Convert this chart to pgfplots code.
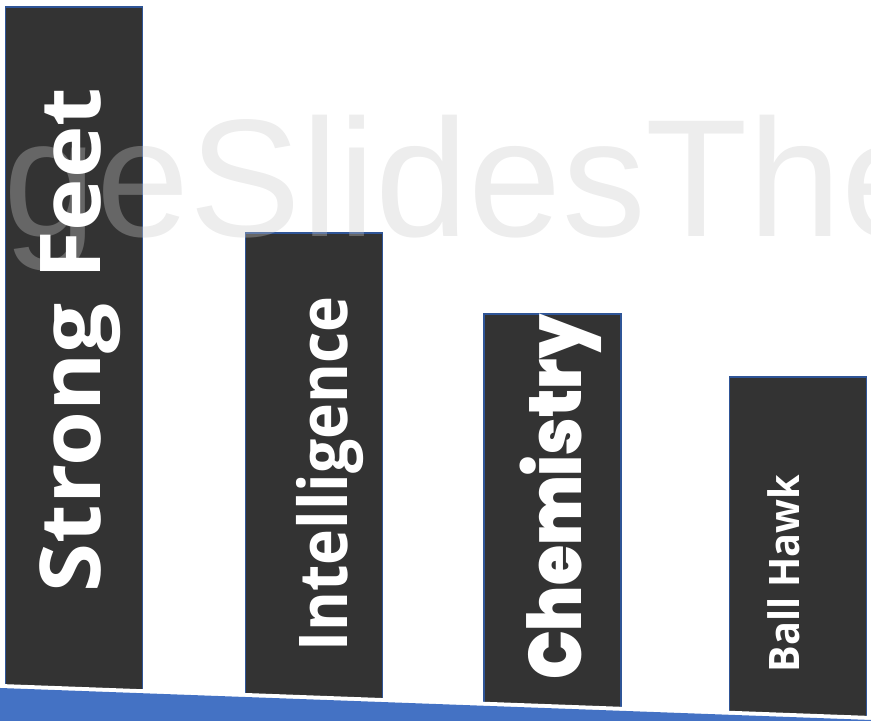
\documentclass[border=0pt]{standalone}
\usepackage{pgfplots}
\pgfplotsset{compat=1.18}
\usepackage{fontspec}
\usepackage{graphicx}
\setmainfont{Open Sans}
\newfontfamily\wmfont{Liberation Sans}
\newfontfamily\chemfont{Poppins Black}
\definecolor{barfill}{HTML}{333333}
\definecolor{baredge}{HTML}{2F5597}
\definecolor{bandblue}{HTML}{4472C4}
\definecolor{wmgray}{HTML}{C9C9C9}
\begin{document}
\begin{tikzpicture}
\begin{axis}[
  scale only axis,
  width=348.4pt, height=288.4pt,
  xmin=0, xmax=871, ymin=0, ymax=721,
  hide axis,
  clip=false,
]
\addplot[ybar, bar width=137, fill=barfill, draw=baredge, line width=0.6pt]
  coordinates {(74,714) (314,488) (552.5,407) (798,344)};
\node[anchor=base west, text=wmgray, opacity=0.34, inner sep=0pt,
      font=\wmfont\fontsize{67}{70}\selectfont] at (axis cs:3,484) {geSlidesThe};
\node[rotate=90, anchor=base, text=white, inner sep=0pt] at (axis cs:100,381)
  {\resizebox{202pt}{\height}{\bfseries\fontsize{33.6}{40}\selectfont Strong Feet}};
\node[rotate=90, anchor=base, text=white, inner sep=0pt] at (axis cs:348,247)
  {\resizebox{142pt}{\height}{\bfseries\fontsize{26.9}{32}\selectfont Intelligence}};
\node[rotate=90, anchor=base, text=white, inner sep=0pt] at (axis cs:582,223.5)
  {\resizebox{146pt}{\height}{\chemfont\fontsize{29.7}{34}\selectfont Chemistry}};
\node[rotate=90, anchor=base, text=white, inner sep=0pt] at (axis cs:800,147.5)
  {\resizebox{79pt}{\height}{\bfseries\fontsize{16.8}{20}\selectfont Ball Hawk}};
\addplot[fill=white, draw=none] coordinates {(0,37) (871,5)} \closedcycle;
\addplot[fill=bandblue, draw=none] coordinates {(0,33) (871,1)} \closedcycle;
\end{axis}
\pgfresetboundingbox
\path (0,0) rectangle (348.4pt,288.4pt);
\end{tikzpicture}
\end{document}
